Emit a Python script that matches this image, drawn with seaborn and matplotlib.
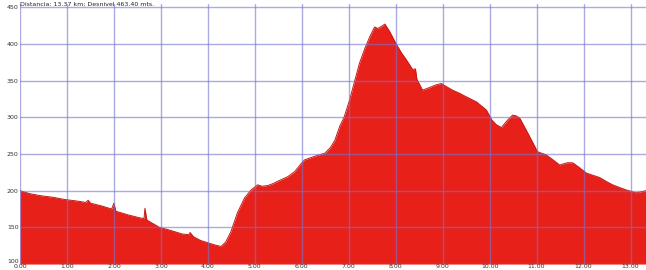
import matplotlib
matplotlib.use("Agg")
import matplotlib.pyplot as plt
import numpy as np
import pandas as pd
import seaborn as sns

#-Profile data (km, altitude in m)
km = [0.00, 0.20, 0.45, 0.70, 0.95, 1.20, 1.40, 1.45, 1.50, 1.75, 1.95, 2.00,
      2.04, 2.30, 2.55, 2.64, 2.66, 2.70, 2.97, 3.20, 3.45, 3.60, 3.62, 3.70,
      3.85, 4.00, 4.15, 4.28, 4.38, 4.49, 4.63, 4.78, 4.92, 5.06, 5.15, 5.28,
      5.40, 5.56, 5.70, 5.85, 6.00, 6.06, 6.28, 6.49, 6.60, 6.70, 6.81, 6.90,
      7.02, 7.12, 7.23, 7.35, 7.45, 7.55, 7.62, 7.70, 7.77, 7.87, 8.00, 8.12,
      8.23, 8.36, 8.42, 8.45, 8.57, 8.70, 8.85, 8.97, 9.10, 9.21, 9.35, 9.50,
      9.72, 9.93, 10.05, 10.14, 10.25, 10.38, 10.49, 10.56, 10.64, 10.75, 10.85, 11.02,
      11.20, 11.35, 11.49, 11.65, 11.77, 11.90, 12.06, 12.20, 12.34, 12.50, 12.62, 12.78,
      12.91, 13.12, 13.33]
alt = [200, 196, 193, 191, 188, 186, 184, 187, 183, 179, 175, 183,
       172, 167, 163, 162, 176, 160, 150, 146, 141, 140, 143, 137,
       132, 129, 126, 124, 130, 144, 170, 190, 201, 208, 206, 207,
       210, 215, 219, 226, 238, 242, 247, 251, 258, 268, 288, 300,
       324, 348, 374, 395, 410, 423, 421, 424, 427, 417, 401, 388,
       378, 365, 366, 352, 337, 340, 344, 346, 341, 337, 333, 328,
       321, 310, 296, 290, 286, 296, 303, 302, 299, 286, 274, 253,
       249, 242, 235, 238, 238, 232, 224, 221, 218, 212, 208, 204,
       201, 197, 200]

xticks = list(range(0, 14))
yticks = list(range(100, 451, 50))
title = "Distancia: 13.37 km; Desnivel 463.40 mts."

df = pd.DataFrame({"km": km, "alt": alt})

sns.set_style("white")
fig = plt.figure(figsize=(6.46, 2.70), dpi=100)
ax = fig.add_axes([0.031, 0.022, 0.969, 0.965])

ax.fill_between(df["km"], df["alt"], 100, color="#e8201a", linewidth=0, zorder=1)
sns.lineplot(data=df, x="km", y="alt", ax=ax, color="#c41812", linewidth=0.7, zorder=2)

ax.set_xlim(0, 13.33)
ax.set_ylim(100, 455)
ax.set_xticks(xticks)
ax.set_xticklabels(["%.2f" % t for t in xticks])
ax.set_yticks(yticks)
ax.set_xlabel("")
ax.set_ylabel("")
ax.grid(True, color="#7474d0", linewidth=1.0, alpha=0.6, zorder=3)
ax.set_axisbelow(False)
for s in ax.spines.values():
    s.set_visible(False)
ax.tick_params(axis="both", length=0, labelsize=4.5, colors="#333333", pad=1)
ax.tick_params(axis="x", pad=0)
ax.get_yticklabels()[0].set_va("bottom")

fig.text(0.031, 0.995, title, fontsize=4.5, color="#222222", ha="left", va="top")

fig.savefig("out.png", dpi=100)
